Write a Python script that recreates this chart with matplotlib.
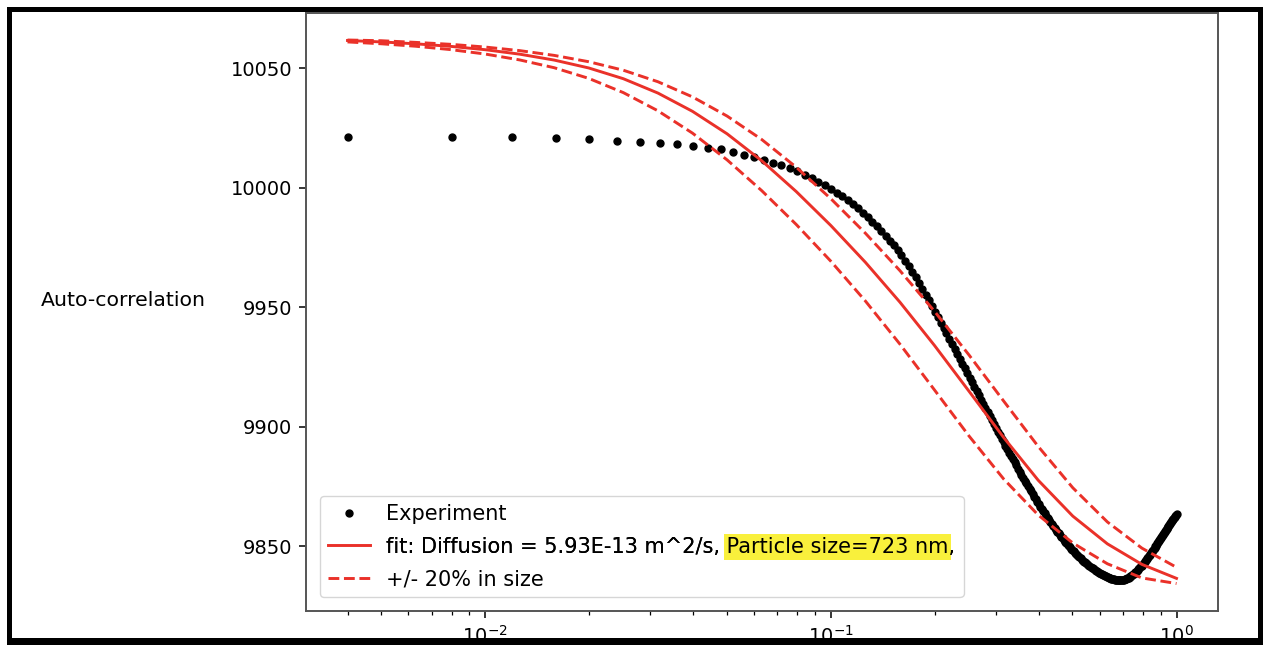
import numpy as np
import matplotlib
matplotlib.use("Agg")
import matplotlib.pyplot as plt
from matplotlib.patches import Rectangle

exp_t = np.linspace(0.004, 1.0, 250)
exp_y = [
    10021.4, 10021.4, 10021.4, 10021.0, 10020.4, 10019.8, 10019.4, 10019.0, 10018.4, 10017.7,
    10016.9, 10016.1, 10015.0, 10013.9, 10012.9, 10011.8, 10010.6, 10009.5, 10008.3, 10007.0,
    10005.6, 10004.2, 10002.7, 10001.1, 9999.5, 9998.0, 9996.5, 9994.9, 9993.2, 9991.5,
    9989.7, 9987.8, 9985.9, 9984.0, 9982.0, 9980.0, 9978.0, 9976.0, 9974.0, 9971.8,
    9969.6, 9967.3, 9965.0, 9962.6, 9960.2, 9957.8, 9955.4, 9953.0, 9950.6, 9948.2,
    9945.9, 9943.6, 9941.4, 9939.2, 9937.0, 9934.8, 9932.7, 9930.6, 9928.5, 9926.5,
    9924.5, 9922.5, 9920.6, 9918.7, 9916.8, 9915.0, 9913.2, 9911.4, 9909.6, 9907.9,
    9906.2, 9904.5, 9902.9, 9901.3, 9899.7, 9898.1, 9896.6, 9895.1, 9893.6, 9892.1,
    9890.7, 9889.3, 9887.9, 9886.5, 9885.2, 9883.9, 9882.6, 9881.3, 9880.0, 9878.8,
    9877.6, 9876.4, 9875.2, 9874.1, 9873.0, 9871.9, 9870.8, 9869.7, 9868.7, 9867.7,
    9866.7, 9865.7, 9864.7, 9863.8, 9862.9, 9862.0, 9861.1, 9860.2, 9859.4, 9858.6,
    9857.8, 9857.0, 9856.2, 9855.5, 9854.8, 9854.1, 9853.4, 9852.7, 9852.0, 9851.4,
    9850.8, 9850.2, 9849.6, 9849.0, 9848.4, 9847.9, 9847.4, 9846.9, 9846.4, 9845.9,
    9845.4, 9845.0, 9844.5, 9844.1, 9843.7, 9843.3, 9842.9, 9842.5, 9842.1, 9841.8,
    9841.4, 9841.1, 9840.8, 9840.5, 9840.2, 9839.9, 9839.6, 9839.3, 9839.0, 9838.8,
    9838.5, 9838.3, 9838.1, 9837.9, 9837.7, 9837.5, 9837.3, 9837.1, 9836.9, 9836.8,
    9836.6, 9836.5, 9836.4, 9836.3, 9836.2, 9836.1, 9836.0, 9836.0, 9835.9, 9835.9,
    9835.9, 9835.9, 9835.9, 9836.0, 9836.0, 9836.1, 9836.2, 9836.3, 9836.4, 9836.6,
    9836.8, 9837.0, 9837.2, 9837.5, 9837.8, 9838.0, 9838.3, 9838.6, 9838.9, 9839.2,
    9839.5, 9839.9, 9840.2, 9840.6, 9840.9, 9841.3, 9841.7, 9842.0, 9842.4, 9842.8,
    9843.2, 9843.6, 9844.0, 9844.4, 9844.8, 9845.2, 9845.6, 9846.0, 9846.4, 9846.8,
    9847.3, 9847.7, 9848.2, 9848.6, 9849.1, 9849.5, 9850.0, 9850.4, 9850.9, 9851.3,
    9851.8, 9852.2, 9852.6, 9853.1, 9853.5, 9854.0, 9854.4, 9854.8, 9855.3, 9855.7,
    9856.1, 9856.5, 9856.9, 9857.3, 9857.7, 9858.1, 9858.5, 9858.9, 9859.3, 9859.7,
    9860.1, 9860.5, 9860.9, 9861.3, 9861.7, 9862.1, 9862.5, 9862.9, 9863.3, 9863.7,
]

# fitted curves, read at these lag times
fit_t = [0.004, 0.00501, 0.00631, 0.00794, 0.01, 0.01259, 0.01585, 0.01995, 0.02512, 0.03162,
         0.03981, 0.05012, 0.0631, 0.07943, 0.1, 0.1259, 0.1585, 0.1995, 0.2512, 0.3162,
         0.3981, 0.5012, 0.631, 0.7943, 1.0]
fit_y = [10061.7, 10061.1, 10060.3, 10059.25, 10057.85, 10055.98, 10053.5, 10050.2, 10045.7, 10039.7,
         10032.05, 10022.65, 10011.4, 9998.5, 9984.3, 9968.9, 9952.2, 9934.1, 9914.9, 9895.6,
         9877.7, 9862.7, 9851.1, 9842.5, 9836.65]
# +20 % size (slower decay)
fit_big_y = [10061.9, 10061.6, 10060.9, 10060.1, 10058.96, 10057.46, 10055.46, 10052.81, 10049.25, 10044.44,
             10038.09, 10030.08, 10020.29, 10008.69, 9995.52, 9981.07, 9965.39, 9948.4, 9930.07, 9910.85,
             9891.84, 9874.55, 9860.26, 9849.29, 9841.27]
# -20 % size (faster decay)
fit_small_y = [10061.1, 10060.32, 10059.28, 10057.89, 10056.04, 10053.57, 10050.3, 10045.84, 10039.88, 10032.28,
               10022.93, 10011.74, 9998.89, 9984.73, 9969.36, 9952.7, 9934.64, 9915.48, 9896.18, 9878.24,
               9863.15, 9851.45, 9842.76, 9836.83, 9834.5]

label_exp = "Experiment"
label_fit = "fit: Diffusion = 5.93E-13 m^2/s, Particle size=723 nm,"
label_band = "+/- 20% in size"
highlight = "Particle size=723 nm"

W, H = 1263, 645
red = "#ea3129"
leg_fs = 15

fig = plt.figure(figsize=(W / 100, H / 100), dpi=100)
ax = fig.add_axes([306 / W, 1 - 611 / H, (1218 - 306) / W, (611 - 13) / H])

ax.plot(exp_t, exp_y, "k.", markersize=10, label=label_exp)
ax.plot(fit_t, fit_y, "-", color=red, lw=2.1, label=label_fit)
ax.plot(fit_t, fit_big_y, "--", color=red, lw=2.1, label=label_band)
ax.plot(fit_t, fit_small_y, "--", color=red, lw=2.1)

ax.set_xscale("log")
ax.set_xlim(10 ** -2.518, 10 ** 0.12)
ax.set_ylim(9823.0, 10073.2)
ax.tick_params(labelsize=14, length=4.9, width=1.1, pad=4.9)
ax.tick_params(which="minor", length=2.8, width=0.9)
for s in ax.spines.values():
    s.set_color("#555555")
    s.set_linewidth(1.4)

ax.set_ylabel("Auto-correlation", rotation=0, fontsize=14.7, va="center", ha="center")
ax.yaxis.set_label_coords(-0.2003, 0.519)

leg = ax.legend(loc="lower left", fontsize=leg_fs, labelspacing=0.6, borderaxespad=0.65)

# yellow marker highlight over part of the fit label
fig.canvas.draw()
r = fig.canvas.get_renderer()
txt = leg.get_texts()[1]
bb = txt.get_window_extent(r)
prefix = label_fit[:label_fit.index(highlight)]
tmp = fig.text(0, 0, prefix + highlight, fontsize=leg_fs)
w_full = tmp.get_window_extent(r).width
tmp.remove()
tmp = fig.text(0, 0, highlight, fontsize=leg_fs)
w_hl = tmp.get_window_extent(r).width
tmp.remove()
x1 = bb.x0 + w_full + 2
x0 = x1 - w_hl - 5
fig.add_artist(Rectangle((x0 / W, (bb.y0 - 3) / H), (x1 - x0) / W, (bb.height + 6) / H,
                         transform=fig.transFigure, color="#f9f03c", zorder=10, lw=0))
fig.text(bb.x0 / W, bb.y0 / H, label_fit, fontsize=leg_fs, ha="left", va="bottom", zorder=11)

# black frame of the screenshot
for (x, y, w, h) in [(7, 7, 5, 638), (7, 7, 1256, 5), (1258, 7, 5, 638), (7, 638, 1256, 7)]:
    fig.add_artist(Rectangle((x / W, 1 - (y + h) / H), w / W, h / H,
                             transform=fig.transFigure, color="black", zorder=20, lw=0))

fig.savefig("out.png", dpi=100)
